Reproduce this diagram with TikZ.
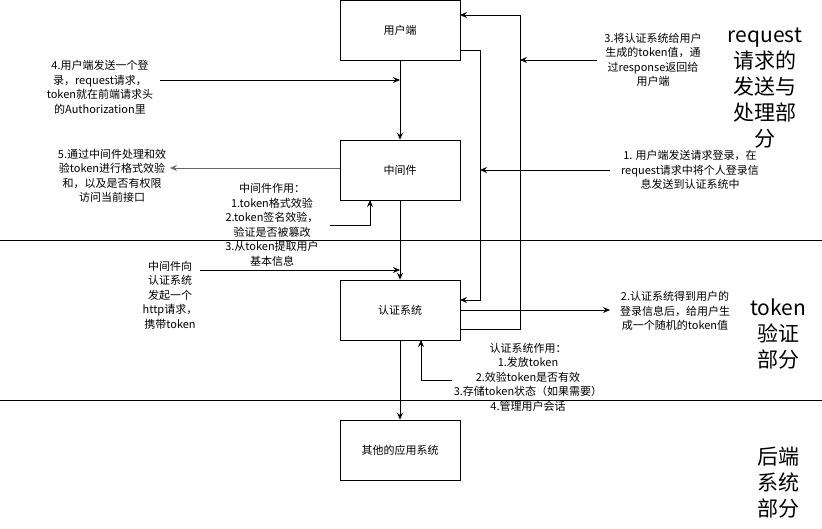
\documentclass[tikz,border=0pt]{standalone}
\usepackage{fontspec}
\setmainfont{Noto Sans CJK SC}
\usetikzlibrary{arrows.meta,positioning}
\tikzset{
  sysbox/.style  = {draw, thick, minimum width=120pt, minimum height=60pt,
                    inner sep=0pt, font=\fontsize{11}{13}\selectfont},
  note/.style    = {align=center, inner sep=0pt, font=\fontsize{11}{14.5}\selectfont},
  part/.style    = {align=center, inner sep=0pt, font=\fontsize{21}{26}\selectfont},
  flow/.style    = {-{Stealth[length=7pt,width=6pt,inset=2.5pt]}, thick},
  sepline/.style = {thick},
}
\begin{document}
\begin{tikzpicture}[x=1pt,y=-1pt]
  \useasboundingbox (0,0) rectangle (822,529);
  % section lines
  \coordinate (s1l) at (0,240);   \coordinate (s1r) at (822,240);
  \coordinate (s2l) at (0,400);   \coordinate (s2r) at (822,400);
  \draw[sepline] (s1l) -- (s1r);
  \draw[sepline] (s2l) -- (s2r);
  % boxes
  \node[sysbox] (user) at (400,30)  {用户端};
  \node[sysbox] (mid)  at (400,170) {中间件};
  \node[sysbox] (auth) at (400,310) {认证系统};
  \node[sysbox] (app)  at (400,450) {其他的应用系统};
  \draw[flow] (user) -- (mid);
  \draw[flow] (mid) -- (auth);
  \draw[flow] (auth) -- (app);
  % loop lines between user and auth
  \coordinate (ua) at (460,50);  \coordinate (au) at (460,300);
  \coordinate (ab) at (460,329); \coordinate (ut) at (460,15);
  \draw[flow] (ua) -| (480,300) -- (au);
  \draw[flow] (ab) -| (520,15) -- (ut);
  % notes
  \node[note] (n4) at (100,87) {4.用户端发送一个登\\录，request请求，\\token就在前端请求头\\的Authorization里};
  \coordinate (n4e) at (400,80);
  \draw[flow] (160,80) -- (n4e);
  \node[note] (n5) at (112,176) {5.通过中间件处理和效\\验token进行格式效验\\和，以及是否有权限\\访问当前接口};
  \coordinate (n5e) at (170,168);
  \draw[flow, draw=black!60] (340,168) -- (n5e);
  \node[note] (midrole) at (272,225) {中间件作用：\\1.token格式效验\\2.token签名效验，\\验证是否被篡改\\3.从token提取用户\\基本信息};
  \coordinate (mr) at (370,200);
  \draw[flow] (330,225) -| (mr);
  \node[note] (n6) at (170,295) {中间件向\\认证系统\\发起一个\\http请求，\\携带token};
  \coordinate (n6e) at (400,270);
  \draw[flow] (200,270) -- (n6e);
  \node[note] (n3) at (653,60) {3.将认证系统给用户\\生成的token值，通\\过response返回给\\用户端};
  \coordinate (n3e) at (520,60);
  \draw[flow] (597,60) -- (n3e);
  \node[note] (n1) at (690,170) {1. 用户端发送请求登录，在\\request请求中将个人登录信\\息发送到认证系统中};
  \coordinate (n1e) at (480,170);
  \draw[flow] (610,170) -- (n1e);
  \node[note] (n2) at (675,311) {2.认证系统得到用户的\\登录信息后，给用户生\\成一个随机的token值};
  \coordinate (n2e) at (610,310);
  \draw[flow] (460,310) -- (n2e);
  \node[note] (authrole) at (528,377) {认证系统作用：\\1.发放token\\2.效验token是否有效\\3.存储token状态（如果需要）\\4.管理用户会话};
  \coordinate (ar) at (421,340);
  \draw[flow] (452,380) -| (ar);
  % part labels
  \node[part] (p1) at (765,88)  {request\\请求的\\发送与\\处理部\\分};
  \node[part] (p2) at (778,334) {token\\验证\\部分};
  \node[part] (p3) at (778,483) {后端\\系统\\部分};
\end{tikzpicture}
\end{document}
